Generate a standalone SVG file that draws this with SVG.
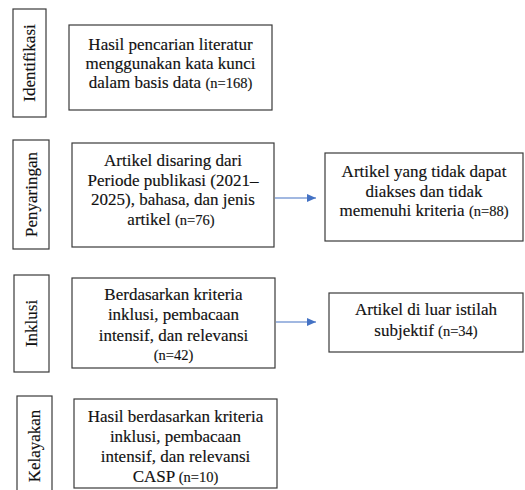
<svg xmlns="http://www.w3.org/2000/svg" width="525" height="490" viewBox="0 0 525 490">
<defs>
<style>
.box{fill:#fff;stroke:#3a3a3a;stroke-width:1.2}
.t{font-family:"Liberation Serif","Times New Roman",serif;font-size:17px;fill:#111;stroke:#111;stroke-width:0.15;text-anchor:middle}
.s{font-size:14.5px}
.v{font-family:"Liberation Serif","Times New Roman",serif;font-size:17px;fill:#111;stroke:#111;stroke-width:0.15;text-anchor:middle;dominant-baseline:central}
.c{stroke:#4472C4;stroke-width:1.2;fill:none}
</style>
<marker id="ah" viewBox="0 0 9 8" refX="9" refY="4" markerWidth="9" markerHeight="8" markerUnits="userSpaceOnUse" orient="auto">
<path d="M0,0 L9,4 L0,8 z" fill="#4472C4"/>
</marker>
</defs>
<rect width="525" height="490" fill="#fff"/>

<g id="stage-identifikasi">
<rect class="box" x="13" y="9" width="33" height="108"/>
<text class="v" transform="translate(29.5,63) rotate(-90)">Identifikasi</text>
</g>
<g id="stage-penyaringan">
<rect class="box" x="13" y="140" width="36" height="109"/>
<text class="v" transform="translate(31,194.5) rotate(-90)">Penyaringan</text>
</g>
<g id="stage-inklusi">
<rect class="box" x="14" y="275" width="35" height="97"/>
<text class="v" transform="translate(31.5,323.5) rotate(-90)">Inklusi</text>
</g>
<g id="stage-kelayakan">
<rect class="box" x="17" y="396" width="35" height="100"/>
<text class="v" transform="translate(34.5,446) rotate(-90)">Kelayakan</text>
</g>

<g id="node-hasil-pencarian">
<rect class="box" x="69" y="25" width="203" height="85"/>
<text class="t" x="170.5" y="50">Hasil pencarian literatur</text>
<text class="t" x="170.5" y="69">menggunakan kata kunci</text>
<text class="t" x="170.5" y="88">dalam basis data <tspan class="s">(n=168)</tspan></text>
</g>

<g id="node-disaring">
<rect class="box" x="72" y="143" width="202" height="104"/>
<text class="t" x="173" y="166">Artikel disaring dari</text>
<text class="t" x="173" y="186">Periode publikasi (2021–</text>
<text class="t" x="173" y="205">2025), bahasa, dan jenis</text>
<text class="t" x="171" y="225">artikel <tspan class="s">(n=76)</tspan></text>
</g>

<g id="node-tidak-diakses">
<rect class="box" x="325" y="153" width="198" height="88"/>
<text class="t" x="424" y="177">Artikel yang tidak dapat</text>
<text class="t" x="424" y="197">diakses dan tidak</text>
<text class="t" x="424" y="216">memenuhi kriteria <tspan class="s">(n=88)</tspan></text>
</g>

<g id="node-inklusi">
<rect class="box" x="72" y="278" width="203" height="90"/>
<text class="t" x="173.5" y="300">Berdasarkan kriteria</text>
<text class="t" x="173.5" y="320">inklusi, pembacaan</text>
<text class="t" x="173.5" y="341">intensif, dan relevansi</text>
<text class="t s" x="173.5" y="360">(n=42)</text>
</g>

<g id="node-luar-istilah">
<rect class="box" x="329" y="293" width="194" height="59"/>
<text class="t" x="426" y="315">Artikel di luar istilah</text>
<text class="t" x="426" y="336">subjektif  <tspan class="s">(n=34)</tspan></text>
</g>

<g id="node-kelayakan">
<rect class="box" x="74" y="399" width="203" height="89"/>
<text class="t" x="175.5" y="422">Hasil berdasarkan kriteria</text>
<text class="t" x="175.5" y="442">inklusi, pembacaan</text>
<text class="t" x="175.5" y="462">intensif, dan relevansi</text>
<text class="t" x="175.5" y="482">CASP <tspan class="s">(n=10)</tspan></text>
</g>

<g id="connectors">
<line class="c" x1="275" y1="198" x2="316" y2="198" marker-end="url(#ah)"/>
<line class="c" x1="276" y1="322" x2="316" y2="322" marker-end="url(#ah)"/>
</g>
</svg>
